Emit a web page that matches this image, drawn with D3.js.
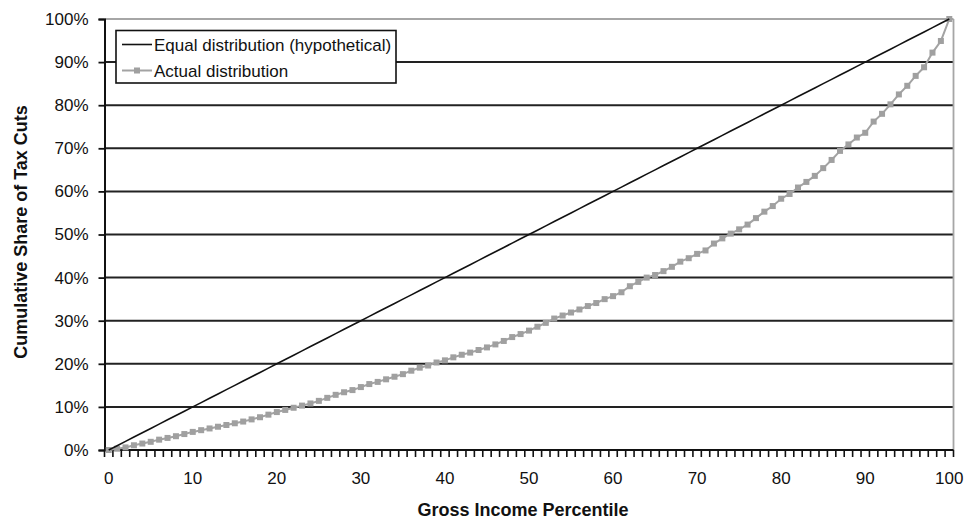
<!DOCTYPE html>
<html>
<head>
<meta charset="utf-8">
<script src="https://cdn.jsdelivr.net/npm/d3@7"></script>
<style>
  html, body { margin: 0; padding: 0; background: #ffffff; }
  svg { display: block; font-family: "Liberation Sans", Arial, Helvetica, sans-serif; }
</style>
</head>
<body>
<svg id="chart" width="975" height="522"></svg>
<script>
// ---- Data ----
const percentiles = [0,1,2,3,4,5,6,7,8,9,10,11,12,13,14,15,16,17,18,19,20,21,22,23,24,25,26,27,28,29,30,31,32,33,34,35,36,37,38,39,40,41,42,43,44,45,46,47,48,49,50,51,52,53,54,55,56,57,58,59,60,61,62,63,64,65,66,67,68,69,70,71,72,73,74,75,76,77,78,79,80,81,82,83,84,85,86,87,88,89,90,91,92,93,94,95,96,97,98,99,100];
const equalShare = [0,1,2,3,4,5,6,7,8,9,10,11,12,13,14,15,16,17,18,19,20,21,22,23,24,25,26,27,28,29,30,31,32,33,34,35,36,37,38,39,40,41,42,43,44,45,46,47,48,49,50,51,52,53,54,55,56,57,58,59,60,61,62,63,64,65,66,67,68,69,70,71,72,73,74,75,76,77,78,79,80,81,82,83,84,85,86,87,88,89,90,91,92,93,94,95,96,97,98,99,100];
const actualShare = [0,0.3,0.6,1.1,1.5,1.9,2.4,2.8,3.2,3.7,4.2,4.6,5.0,5.4,5.8,6.2,6.6,7.1,7.6,8.2,8.8,9.3,9.8,10.3,10.8,11.4,12.1,12.8,13.4,13.9,14.6,15.3,15.8,16.4,17.0,17.6,18.4,19.1,19.6,20.3,20.8,21.5,22.1,22.6,23.2,23.8,24.5,25.3,26.2,26.9,27.7,28.6,29.5,30.5,31.2,31.9,32.6,33.4,34.1,35.0,35.7,36.6,38.0,39.0,40.0,40.6,41.5,42.5,43.7,44.5,45.5,46.3,47.9,49.1,50.2,51.2,52.3,53.8,55.3,56.6,58.3,59.4,60.9,62.2,63.6,65.4,67.3,69.4,70.9,72.5,73.6,76.2,78.0,80.2,82.5,84.5,86.8,88.8,92.2,94.9,100];
const xTickLabels = [0,10,20,30,40,50,60,70,80,90,100];
const yTicks = [0,10,20,30,40,50,60,70,80,90,100];
const seriesNames = ["Equal distribution (hypothetical)", "Actual distribution"];
const xTitle = "Gross Income Percentile";
const yTitle = "Cumulative Share of Tax Cuts";

// ---- Layout ----
const L = 104.5, R = 953.5, T = 19, B = 450;
const svg = d3.select("#chart");

const x = d3.scaleBand().domain(percentiles).range([L, R]).paddingInner(0).paddingOuter(0);
const y = d3.scaleLinear().domain([0, 100]).range([B, T]);
const cx = p => x(p) + x.bandwidth() / 2;

// gridlines
svg.append("g").selectAll("line")
  .data(yTicks.filter(v => v > 0 && v < 100))
  .join("line")
  .attr("x1", L).attr("x2", R)
  .attr("y1", d => y(d)).attr("y2", d => y(d))
  .attr("stroke", "#222").attr("stroke-width", 2);

// top & right border (light gray)
svg.append("line").attr("x1", L).attr("x2", R).attr("y1", y(100)).attr("y2", y(100))
  .attr("stroke", "#a6a6a6").attr("stroke-width", 1.8);
svg.append("line").attr("x1", R).attr("x2", R).attr("y1", T).attr("y2", B)
  .attr("stroke", "#a6a6a6").attr("stroke-width", 1.8);

// y axis
const yAxis = d3.axisLeft(y).tickValues(yTicks).tickFormat(d => d + "%").tickSize(6).tickPadding(10);
const gy = svg.append("g").attr("transform", `translate(${L},0)`).call(yAxis);
gy.select(".domain").attr("stroke", "#111").attr("stroke-width", 2);
gy.selectAll(".tick line").attr("stroke", "#111").attr("stroke-width", 1.8);
gy.selectAll(".tick text").attr("font-size", 17).attr("fill", "#111")
  .attr("font-family", "'Liberation Sans', Arial, sans-serif");

// x axis: baseline with ticks at every category boundary
const boundaries = percentiles.map(p => x(p)).concat([R]);
svg.append("g").selectAll("line")
  .data(boundaries).join("line")
  .attr("x1", d => d).attr("x2", d => d)
  .attr("y1", B).attr("y2", B + 7)
  .attr("stroke", "#111").attr("stroke-width", 1.6);
svg.append("line").attr("x1", L).attr("x2", R).attr("y1", B).attr("y2", B)
  .attr("stroke", "#111").attr("stroke-width", 2);
svg.append("g").selectAll("text")
  .data(xTickLabels).join("text")
  .attr("x", d => cx(d)).attr("y", 484)
  .attr("text-anchor", "middle")
  .attr("font-size", 17).attr("fill", "#111")
  .text(d => d);

// axis titles
svg.append("text")
  .attr("x", 523).attr("y", 516)
  .attr("text-anchor", "middle")
  .attr("font-size", 18).attr("font-weight", "bold").attr("fill", "#111")
  .text(xTitle);
svg.append("text")
  .attr("transform", "translate(27,232) rotate(-90)")
  .attr("text-anchor", "middle")
  .attr("font-size", 18).attr("font-weight", "bold").attr("fill", "#111")
  .text(yTitle);

// lines
const line = d3.line().x((d, i) => cx(percentiles[i])).y(d => y(d));
svg.append("path").datum(actualShare)
  .attr("d", line).attr("fill", "none")
  .attr("stroke", "#a3a3a3").attr("stroke-width", 2);
svg.append("g").selectAll("rect")
  .data(actualShare).join("rect")
  .attr("x", (d, i) => cx(percentiles[i]) - 3)
  .attr("y", d => y(d) - 3)
  .attr("width", 6).attr("height", 6)
  .attr("fill", "#a0a0a0");
svg.append("path").datum(equalShare)
  .attr("d", line).attr("fill", "none")
  .attr("stroke", "#111").attr("stroke-width", 1.6);

// legend
const lg = svg.append("g");
lg.append("rect").attr("x", 116).attr("y", 30.5).attr("width", 280).attr("height", 52.5)
  .attr("fill", "#fff").attr("stroke", "#111").attr("stroke-width", 1.6);
lg.append("line").attr("x1", 122).attr("x2", 152).attr("y1", 44.5).attr("y2", 44.5)
  .attr("stroke", "#111").attr("stroke-width", 1.6);
lg.append("line").attr("x1", 122).attr("x2", 152).attr("y1", 70.5).attr("y2", 70.5)
  .attr("stroke", "#a3a3a3").attr("stroke-width", 2);
lg.append("rect").attr("x", 134).attr("y", 67.5).attr("width", 6).attr("height", 6).attr("fill", "#a0a0a0");
lg.append("text").attr("x", 154).attr("y", 50.5).attr("font-size", 17).attr("fill", "#111").text(seriesNames[0]);
lg.append("text").attr("x", 154).attr("y", 77).attr("font-size", 17).attr("fill", "#111").text(seriesNames[1]);
</script>
</body>
</html>
